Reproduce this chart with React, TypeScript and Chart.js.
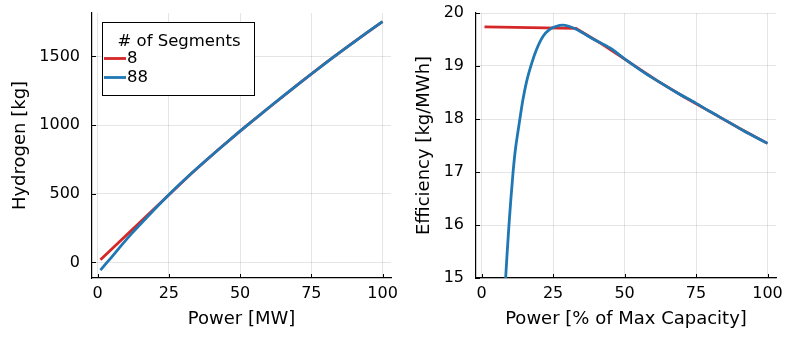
import React, { useEffect, useRef } from "react";
import { Chart, registerables } from "chart.js";

Chart.register(...registerables);

// ---------- data ----------
const seriesLabels = ["8", "88"];
const seriesColors = ["#d62728", "#1f77b4"];

// Left panel: Hydrogen [kg] vs Power [MW]
const powerMW8 = [1, 33, 42.5, 52, 61.5, 71, 80.5, 90, 100];
const hydrogen8 = [19.7, 650, 824, 991, 1150, 1307, 1460, 1605, 1754];
const powerMW88 = [1, 3, 5, 8.5, 12, 15, 20, 25, 30, 35, 40, 45, 50, 55, 60, 65, 70, 75, 80, 85, 90, 95, 100];
const hydrogen88 = [-56, -7, 41, 128, 212, 278, 387, 493, 593, 688, 779, 868, 956, 1041, 1126, 1209, 1291, 1372, 1451, 1529, 1604, 1680, 1754];

// Right panel: Efficiency [kg/MWh] vs Power [% of Max Capacity]
const powerPct8 = [1, 33, 42.5, 52, 61.5, 71, 80.5, 90, 100];
const efficiency8 = [19.74, 19.71, 19.4, 19.06, 18.72, 18.41, 18.12, 17.83, 17.54];
const powerPct88 = [8.4, 8.9, 9.5, 10.2, 11.0, 11.8, 12.7, 13.6, 14.5, 15.7, 17.4, 19.2, 21.5, 23.8, 26.2, 28.3, 30.5, 32.9, 35.5, 39.0, 44.9, 49.9, 56.5, 62.4, 68.2, 74.9, 79.9, 85.8, 91.6, 100];
const efficiency88 = [15.0, 15.45, 15.95, 16.47, 17.0, 17.42, 17.76, 18.08, 18.38, 18.7, 19.03, 19.31, 19.56, 19.69, 19.75, 19.77, 19.75, 19.7, 19.62, 19.51, 19.34, 19.14, 18.89, 18.69, 18.5, 18.3, 18.14, 17.96, 17.78, 17.54];

const powerTicks = [0, 25, 50, 75, 100];
const hydrogenTicks = [0, 500, 1000, 1500];
const efficiencyTicks = [15, 16, 17, 18, 19, 20];

const xRange = [-1.97, 102.97];
const hydrogenRange = [-113, 1816];
const efficiencyRange = [15, 20];

const FONT = "'DejaVu Sans', sans-serif";

const zip = (xs: number[], ys: number[]) => xs.map((x, i) => ({ x, y: ys[i] }));

const innerTicks = {
  id: "innerTicks",
  afterDatasetsDraw(chart: any) {
    const { ctx, chartArea, scales } = chart;
    ctx.save();
    ctx.strokeStyle = "#000";
    ctx.lineWidth = 1;
    scales.x.ticks.forEach((t: any) => {
      const px = Math.round(scales.x.getPixelForValue(t.value)) + 0.5;
      ctx.beginPath();
      ctx.moveTo(px, chartArea.bottom);
      ctx.lineTo(px, chartArea.bottom - 4);
      ctx.stroke();
    });
    scales.y.ticks.forEach((t: any) => {
      const py = Math.round(scales.y.getPixelForValue(t.value)) + 0.5;
      ctx.beginPath();
      ctx.moveTo(chartArea.left, py);
      ctx.lineTo(chartArea.left + 4, py);
      ctx.stroke();
    });
    ctx.restore();
  },
};

const boxLegend = {
  id: "boxLegend",
  afterDraw(chart: any) {
    const opts = chart.options.plugins.boxLegend;
    if (!opts || !opts.display) return;
    const { ctx, chartArea } = chart;
    const x0 = chartArea.left + 10;
    const y0 = chartArea.top + 9;
    const w = 152;
    const h = 73;
    ctx.save();
    ctx.fillStyle = "#fff";
    ctx.fillRect(x0, y0, w, h);
    ctx.strokeStyle = "#000";
    ctx.lineWidth = 1;
    ctx.strokeRect(x0 + 0.5, y0 + 0.5, w, h);
    ctx.fillStyle = "#000";
    ctx.font = `16.5px ${FONT}`;
    ctx.textAlign = "center";
    ctx.textBaseline = "middle";
    ctx.fillText(opts.title, x0 + w / 2 + 1, y0 + 19.5);
    ctx.textAlign = "left";
    const ds = chart.data.datasets.slice().sort((a: any, b: any) => a.legendOrder - b.legendOrder);
    ds.forEach((d: any, i: number) => {
      const y = y0 + 36.5 + i * 19;
      ctx.strokeStyle = d.borderColor;
      ctx.lineWidth = 2.8;
      ctx.beginPath();
      ctx.moveTo(x0 + 2, y);
      ctx.lineTo(x0 + 24, y);
      ctx.stroke();
      ctx.fillStyle = "#000";
      ctx.fillText(d.label, x0 + 25, y + 0.5);
    });
    ctx.restore();
  },
};

function buildConfig(p: {
  xs8: number[]; ys8: number[]; xs88: number[]; ys88: number[];
  yRange: number[]; yTicks: number[]; xTitle: string; yTitle: string;
  yWidth: number; rightPad: number; yTitlePad: number; legend: boolean;
}): any {
  return {
    type: "line",
    data: {
      datasets: [
        {
          label: seriesLabels[1],
          legendOrder: 1,
          data: zip(p.xs88, p.ys88),
          borderColor: seriesColors[1],
          borderWidth: 2.8,
          pointRadius: 0,
          fill: false,
          cubicInterpolationMode: "monotone",
        },
        {
          label: seriesLabels[0],
          legendOrder: 0,
          data: zip(p.xs8, p.ys8),
          borderColor: seriesColors[0],
          borderWidth: 2.8,
          pointRadius: 0,
          fill: false,
          tension: 0,
        },
      ],
    },
    options: {
      responsive: false,
      animation: false,
      devicePixelRatio: 1,
      layout: { autoPadding: false, padding: { left: 0, right: p.rightPad, top: 13, bottom: 0 } },
      plugins: {
        legend: { display: false },
        tooltip: { enabled: false },
        boxLegend: { display: p.legend, title: "# of Segments" },
      },
      scales: {
        x: {
          type: "linear",
          min: xRange[0],
          max: xRange[1],
          afterBuildTicks: (s: any) => { s.ticks = powerTicks.map((v) => ({ value: v })); },
          afterFit: (s: any) => { s.height = 60; s.paddingLeft = 0; s.paddingRight = 0; s.paddingTop = 0; s.paddingBottom = 0; },
          grid: { color: "rgba(0,0,0,0.1)", lineWidth: 1, drawTicks: false },
          border: { display: true, color: "#000", width: 1.2 },
          ticks: { font: { family: FONT, size: 16 }, color: "#000", padding: 6, maxRotation: 0, autoSkip: false, callback: (v: any) => String(v) },
          title: { display: true, text: p.xTitle, font: { family: FONT, size: 18 }, color: "#000", padding: { top: 0, bottom: 8 } },
        },
        y: {
          type: "linear",
          min: p.yRange[0],
          max: p.yRange[1],
          afterBuildTicks: (s: any) => { s.ticks = p.yTicks.map((v) => ({ value: v })); },
          afterFit: (s: any) => { s.width = p.yWidth; s.paddingLeft = 0; s.paddingRight = 0; s.paddingTop = 0; s.paddingBottom = 0; },
          grid: { color: "rgba(0,0,0,0.1)", lineWidth: 1, drawTicks: false },
          border: { display: true, color: "#000", width: 1.2 },
          ticks: { font: { family: FONT, size: 16 }, color: "#000", padding: 12, autoSkip: false, callback: (v: any) => String(v) },
          title: { display: true, text: p.yTitle, font: { family: FONT, size: 18 }, color: "#000", padding: { top: p.yTitlePad, bottom: 0 } },
        },
      },
    },
    plugins: [innerTicks, boxLegend],
  };
}

function Panel(props: { left: number; width: number; config: any }) {
  const ref = useRef<HTMLCanvasElement>(null);
  useEffect(() => {
    if (!ref.current) return;
    const chart = new Chart(ref.current, props.config);
    return () => chart.destroy();
  }, []);
  return (
    <canvas
      ref={ref}
      width={props.width}
      height={338}
      style={{ position: "absolute", left: props.left, top: 0, width: props.width, height: 338 }}
    />
  );
}

export default function App() {
  const leftCfg = buildConfig({
    xs8: powerMW8, ys8: hydrogen8, xs88: powerMW88, ys88: hydrogen88,
    yRange: hydrogenRange, yTicks: hydrogenTicks,
    xTitle: "Power [MW]", yTitle: "Hydrogen [kg]",
    yWidth: 92, rightPad: 9, yTitlePad: 10, legend: true,
  });
  const rightCfg = buildConfig({
    xs8: powerPct8, ys8: efficiency8, xs88: powerPct88, ys88: efficiency88,
    yRange: efficiencyRange, yTicks: efficiencyTicks,
    xTitle: "Power [% of Max Capacity]", yTitle: "Efficiency [kg/MWh]",
    yWidth: 76, rightPad: 13, yTitlePad: 14, legend: false,
  });
  return (
    <div style={{ position: "fixed", left: 0, top: 0, width: 789, height: 338, background: "#fff" }}>
      <Panel left={0} width={400} config={leftCfg} />
      <Panel left={400} width={389} config={rightCfg} />
    </div>
  );
}
